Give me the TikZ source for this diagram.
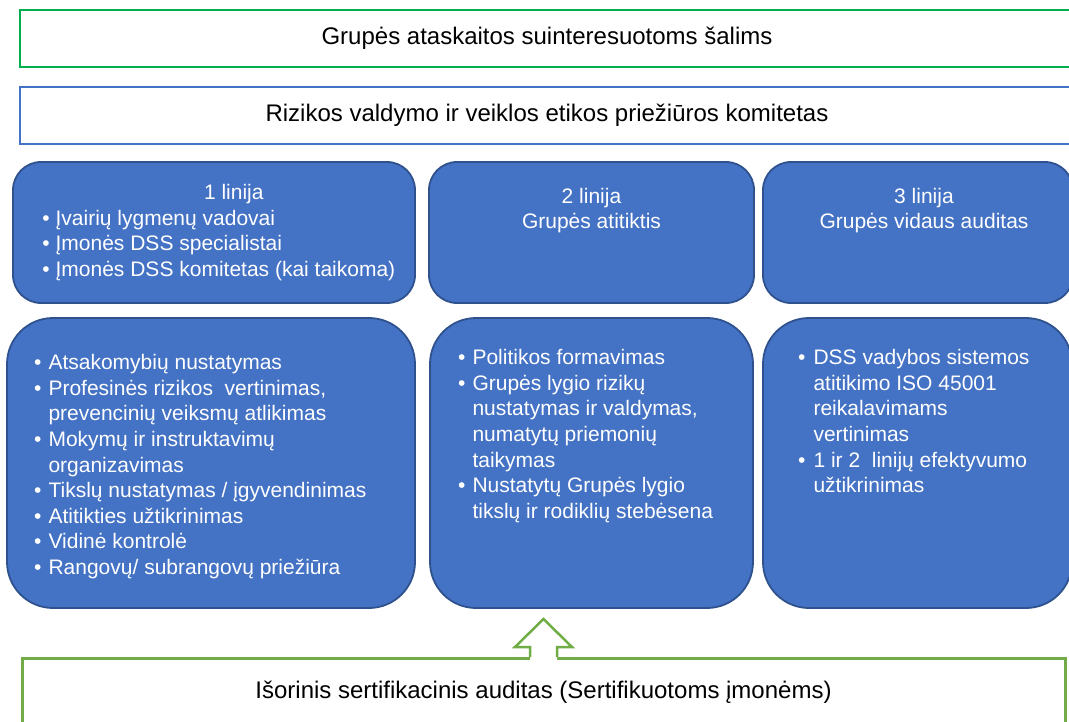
\documentclass[tikz,border=0pt]{standalone}
\usepackage{fontspec}
\setmainfont{Liberation Sans}
\usetikzlibrary{calc}
\definecolor{boxblue}{HTML}{4472C4}
\definecolor{edgeblue}{HTML}{2F528F}
\definecolor{brightgreen}{HTML}{00B050}
\definecolor{leafgreen}{HTML}{70AD47}
\newcommand{\bodyfont}{\fontsize{21}{25.6}\selectfont}
\newcommand{\headfont}{\fontsize{24}{28}\selectfont}
\newcommand{\bl}{\textbullet}

\begin{document}
\begin{tikzpicture}[x=1pt,y=-1pt,
  plainbox/.style={line width=2.5pt,minimum height=57,font=\headfont,fill=white},
  linebox/.style={draw=edgeblue,fill=boxblue,line width=1.8pt,rounded corners=28},
  taskbox/.style={linebox,rounded corners=46},
  whitetext/.style={text=white,font=\bodyfont,inner sep=0},
]
\useasboundingbox (0,0) rectangle (1069,722);
\clip (0,0) rectangle (1069,722);

% reporting and committee
\node[plainbox,draw=brightgreen,minimum width=1054] (report) at (547,38.5) {Grupės ataskaitos suinteresuotoms šalims};
\node[plainbox,draw=boxblue,minimum width=1054] (committee) at (547,115.5) {Rizikos valdymo ir veiklos etikos priežiūros komitetas};

% three lines of defence
\node[linebox,minimum width=402,minimum height=141] (first) at (214,232.5) {};
\node[linebox,minimum width=325,minimum height=141] (second) at (591.5,232.5) {};
\node[linebox,minimum width=310,minimum height=141] (third) at (918,232.5) {};

\node[whitetext,anchor=north west] (firsttxt) at ([xshift=30pt,yshift=-20.5pt]first.north west)
  {\begin{tabular}{@{}l@{\hspace{6pt}}l@{}}
   \multicolumn{2}{c}{\hspace{30pt}1 linija}\\
   \bl & Įvairių lygmenų vadovai\\
   \bl & Įmonės DSS specialistai\\
   \bl & Įmonės DSS komitetas (kai taikoma)
   \end{tabular}};
\node[whitetext,anchor=north] (secondtxt) at ([yshift=-24pt]second.north)
  {\begin{tabular}{@{}c@{}}2 linija\\Grupės atitiktis\end{tabular}};
\node[whitetext,anchor=north] (thirdtxt) at ([xshift=6pt,yshift=-24pt]third.north)
  {\begin{tabular}{@{}c@{}}3 linija\\Grupės vidaus auditas\end{tabular}};

% tasks of each line
\node[taskbox,minimum width=408,minimum height=290] (firsttasks) at (211,463) {};
\node[taskbox,minimum width=323,minimum height=290] (secondtasks) at (591.5,463) {};
\node[taskbox,minimum width=309,minimum height=290] (thirdtasks) at (917.5,463) {};

\node[whitetext,anchor=north west] (firstlist) at (34,351.5)
  {\begin{tabular}{@{}l@{\hspace{7pt}}l@{}}
   \bl & Atsakomybių nustatymas\\
   \bl & Profesinės rizikos\ \ vertinimas,\\
       & prevencinių veiksmų atlikimas\\
   \bl & Mokymų ir instruktavimų\\
       & organizavimas\\
   \bl & Tikslų nustatymas / įgyvendinimas\\
   \bl & Atitikties užtikrinimas\\
   \bl & Vidinė kontrolė\\
   \bl & Rangovų/ subrangovų priežiūra
   \end{tabular}};
\node[whitetext,anchor=north west] (secondlist) at (458,346.5)
  {\begin{tabular}{@{}l@{\hspace{7pt}}l@{}}
   \bl & Politikos formavimas\\
   \bl & Grupės lygio rizikų\\
       & nustatymas ir valdymas,\\
       & numatytų priemonių\\
       & taikymas\\
   \bl & Nustatytų Grupės lygio\\
       & tikslų ir rodiklių stebėsena
   \end{tabular}};
\node[whitetext,anchor=north west] (thirdlist) at (798,346.5)
  {\begin{tabular}{@{}l@{\hspace{8pt}}l@{}}
   \bl & DSS vadybos sistemos\\
       & atitikimo ISO 45001\\
       & reikalavimams\\
       & vertinimas\\
   \bl & 1 ir 2\ \ linijų efektyvumo\\
       & užtikrinimas
   \end{tabular}};

% external audit with hollow arrow
\node[plainbox,draw=leafgreen,line width=3pt,minimum width=1043,minimum height=68] (external) at (543.5,692.5) {Išorinis sertifikacinis auditas (Sertifikuotoms įmonėms)};
\fill[white] (external.north) ++(-13.5,3) -- ++(0,-13) -- ++(-15,0) -- ++(28.5,-28) -- ++(28.5,28) -- ++(-15,0) -- ++(0,13) -- cycle;
\draw[leafgreen,line width=2.5pt,line join=miter] (external.north) ++(-13.5,0) -- ++(0,-10) -- ++(-15,0) -- ++(28.5,-28) -- ++(28.5,28) -- ++(-15,0) -- ++(0,10);
\end{tikzpicture}
\end{document}
